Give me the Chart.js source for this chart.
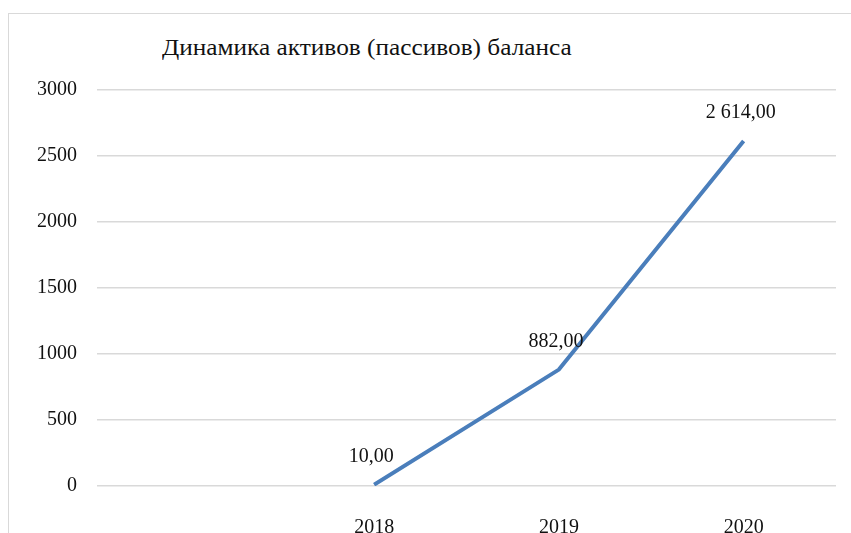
<!DOCTYPE html>
<html>
<head>
<meta charset="utf-8">
<script src="https://cdn.jsdelivr.net/npm/chart.js@4"></script>
<style>
	html, body { margin: 0; padding: 0; background: #fff; }
	#wrap { position: relative; width: 851px; height: 533px; overflow: hidden; }
	#frame { position: absolute; left: 8px; top: 13px; width: 900px; height: 600px; border: 1px solid #d9d9d9; }
	#title { position: absolute; left: 162px; top: 35px; font: 23px 'Liberation Serif', 'Times New Roman', serif; color: #111; white-space: nowrap; transform: scaleX(1.1); transform-origin: left top; }
	canvas { position: absolute; left: 0; top: 0; }
</style>
</head>
<body>
<div id="wrap">
	<div id="frame"></div>
	<div id="title">Динамика активов (пассивов) баланса</div>
	<canvas id="chart" width="851" height="533"></canvas>
</div>
<script>
// data
const years = ['', '2018', '2019', '2020'];
const balance = [null, 10, 882, 2614];
const yTicks = [0, 500, 1000, 1500, 2000, 2500, 3000];

const serif = "'Liberation Serif', 'Times New Roman', serif";

function fmt(v) {
	const parts = v.toFixed(2).split('.');
	const intPart = parts[0].replace(/\B(?=(\d{3})+(?!\d))/g, ' ');
	return intPart + ',' + parts[1];
}

// value labels above the points
const valueLabels = {
	id: 'valueLabels',
	afterDatasetsDraw(chart) {
		const ctx = chart.ctx;
		const meta = chart.getDatasetMeta(0);
		ctx.save();
		ctx.font = '20px ' + serif;
		ctx.fillStyle = '#111';
		ctx.textAlign = 'center';
		ctx.textBaseline = 'middle';
		meta.data.forEach((pt, i) => {
			const v = balance[i];
			if (v === null) return;
			ctx.fillText(fmt(v), pt.x - 3, pt.y - 28);
		});
		ctx.restore();
	}
};

new Chart(document.getElementById('chart'), {
	type: 'line',
	data: {
		labels: years,
		datasets: [{
			data: balance,
			borderColor: '#4a7ebb',
			borderWidth: 4,
			pointRadius: 0,
			tension: 0,
			spanGaps: false
		}]
	},
	options: {
		responsive: false,
		animation: false,
		layout: { padding: { top: 90, right: 15, bottom: 0, left: 0 } },
		plugins: {
			legend: { display: false },
			tooltip: { enabled: false },
			title: { display: false }
		},
		scales: {
			x: {
				offset: true,
				grid: { display: false },
				border: { display: false },
				ticks: { font: { family: serif, size: 20 }, color: '#111', padding: 22, autoSkip: false, maxRotation: 0 },
				afterFit(scale) { scale.height = 47; }
			},
			y: {
				min: 0,
				max: 3000,
				afterBuildTicks(scale) { scale.ticks = yTicks.map(v => ({ value: v })); },
				grid: { color: '#d9d9d9', lineWidth: 1.5, drawTicks: false },
				border: { display: false },
				ticks: { font: { family: serif, size: 20 }, color: '#111', padding: 20, callback: v => String(v) },
				afterFit(scale) { scale.width = 97; }
			}
		}
	},
	plugins: [valueLabels]
});
</script>
</body>
</html>
